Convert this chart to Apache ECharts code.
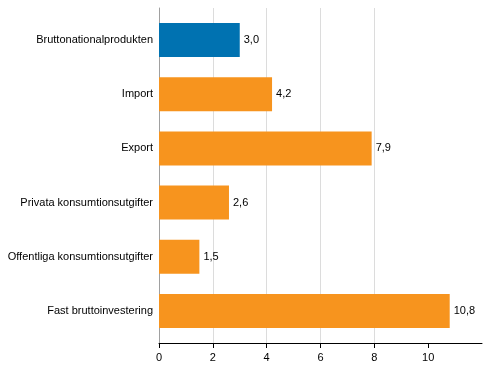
<!DOCTYPE html>
<html>
<head>
<meta charset="utf-8">
<script src="https://cdn.jsdelivr.net/npm/echarts@6/dist/echarts.min.js"></script>
<style>html,body{margin:0;padding:0;background:#fff;}#c{width:491px;height:378px;}</style>
</head>
<body>
<div id="c"></div>
<script>
var categories = ["Bruttonationalprodukten", "Import", "Export", "Privata konsumtionsutgifter", "Offentliga konsumtionsutgifter", "Fast bruttoinvestering"];
var values = [3.0, 4.2, 7.9, 2.6, 1.5, 10.8];
var highlight = [true, false, false, false, false, false];
var xTicks = [0, 2, 4, 6, 8, 10];

var BLUE = "#0072b1", ORANGE = "#f7941e";
var font = "Liberation Sans, Arial, sans-serif";

var chart = echarts.init(document.getElementById("c"), null, {renderer: "canvas"});
chart.setOption({
  animation: false,
  grid: [
    {left: 159, right: 9, top: 8, bottom: 35, containLabel: false},
    {left: 159, right: 9, top: 13, bottom: 40, containLabel: false}
  ],
  xAxis: [
    {
      gridIndex: 0, type: "value", min: 0, max: 12, interval: 2,
      axisLine: {show: true, lineStyle: {color: "#000", width: 1}},
      axisTick: {show: true, length: 5, customValues: xTicks, lineStyle: {color: "#000"}},
      axisLabel: {
        margin: 9, color: "#000", fontFamily: font, fontSize: 11, customValues: xTicks
      },
      splitLine: {show: true, showMinLine: false, showMaxLine: false, lineStyle: {color: "#dcdcdc", width: 1}}
    },
    {
      gridIndex: 1, type: "value", min: 0, max: 12, interval: 2, show: false
    }
  ],
  yAxis: [
    {
      gridIndex: 0, type: "category", data: categories, inverse: true,
      axisLine: {show: true, lineStyle: {color: "#a0a0a0"}},
      axisTick: {show: false}, axisLabel: {show: false}, splitLine: {show: false}
    },
    {
      gridIndex: 1, type: "category", data: categories, inverse: true,
      axisLine: {show: false}, axisTick: {show: false},
      axisLabel: {margin: 6, color: "#000", fontFamily: font, fontSize: 11}
    }
  ],
  series: [{
    type: "bar", xAxisIndex: 1, yAxisIndex: 1, barWidth: 34,
    data: values.map(function (v, i) {
      return {value: v, itemStyle: {color: highlight[i] ? BLUE : ORANGE}};
    }),
    label: {
      show: true, position: "right", distance: 4, color: "#000",
      fontFamily: font, fontSize: 11,
      formatter: function (p) { return p.value.toFixed(1).replace(".", ","); }
    }
  }]
});
</script>
</body>
</html>
